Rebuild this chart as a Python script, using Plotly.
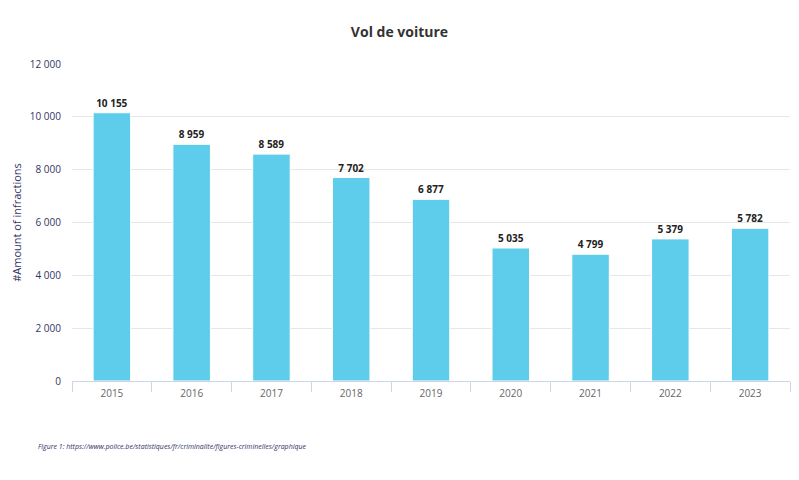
import plotly.graph_objects as go

years = ["2015", "2016", "2017", "2018", "2019", "2020", "2021", "2022", "2023"]
values = [10155, 8959, 8589, 7702, 6877, 5035, 4799, 5379, 5782]
y_ticks = [0, 2000, 4000, 6000, 8000, 10000, 12000]

fig = go.Figure()
fig.add_trace(go.Bar(
    x=years, y=values,
    marker=dict(color="#5ECCEB", line=dict(color="#ffffff", width=1)),
    texttemplate="%{y:,d}", textposition="outside",
    textfont=dict(family="Open Sans", size=10, color="#222222", weight="bold"),
    cliponaxis=False,
    hoverinfo="skip",
))

fig.update_layout(
    width=799, height=480,
    margin=dict(l=72, r=9, t=64, b=99),
    paper_bgcolor="white", plot_bgcolor="white",
    separators=", ",
    bargap=0.53,
    showlegend=False,
    title=dict(text="<b>Vol de voiture</b>", x=0.5, xanchor="center", y=0.933, yanchor="middle",
               font=dict(family="Open Sans", size=14, color="#333333")),
    font=dict(family="Open Sans"),
)
fig.update_xaxes(
    type="category",
    showline=True, linecolor="#ccd6eb", linewidth=1,
    ticks="outside", tickson="boundaries", ticklen=10, tickcolor="#ccd6eb",
    tickfont=dict(size=10, color="#666666"),
    ticklabelstandoff=3,
    showgrid=False,
)
fig.update_yaxes(
    range=[0, 12000], tickvals=y_ticks, tickformat=",d",
    gridcolor="#e6e6e6", zeroline=False,
    tickfont=dict(size=10, color="#333366"),
    ticklabelstandoff=10,
    title=dict(text="#Amount of infractions", font=dict(size=11, color="#333366"), standoff=5),
)
fig.add_annotation(
    text="<i>Figure 1: https://www.police.be/statistiques/fr/criminalite/figures-criminelles/graphique</i>",
    xref="paper", yref="paper", x=-0.05, y=-0.208, xanchor="left", yanchor="middle",
    showarrow=False, font=dict(size=7, color="#333366"),
)
fig.write_html("out.html")
